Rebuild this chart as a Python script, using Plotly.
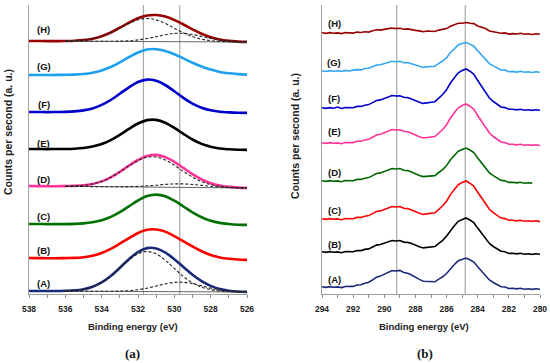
import plotly.graph_objects as go

# ---------------- Panel (a): O 1s ----------------
energy_a = [538.0, 537.5, 537.0, 536.5, 536.0, 535.5, 535.0, 534.5, 534.0, 533.5, 533.0, 532.5,
            532.0, 531.5, 531.0, 530.5, 530.0, 529.5, 529.0, 528.5, 528.0, 527.5, 527.0, 526.5, 526.0]

a_A = [3.0, 3.0, 3.0, 3.0, 3.2, 3.6, 4.8, 7.3, 11.6, 18.0, 26.2, 34.8, 42.0, 45.9, 45.6, 41.5, 34.8, 26.9, 19.2, 12.8, 8.1, 5.0, 3.3, 2.5, 2.1]
a_B = [36.0, 35.9, 35.8, 35.8, 35.9, 36.1, 36.8, 38.3, 41.0, 45.1, 50.3, 55.8, 61.0, 64.2, 64.5, 62.4, 57.8, 52.7, 47.5, 42.7, 39.0, 36.6, 35.2, 34.5, 34.1]
a_C = [70.0, 70.0, 69.9, 69.9, 69.9, 70.1, 70.6, 71.7, 73.7, 77.1, 81.9, 87.7, 93.5, 97.9, 99.4, 97.8, 93.3, 87.5, 81.6, 76.7, 73.2, 71.1, 70.0, 69.3, 69.1]
a_D = [108.0, 107.9, 107.8, 107.8, 107.9, 108.1, 108.7, 110.1, 112.6, 116.7, 122.2, 128.4, 134.0, 138.0, 139.1, 136.9, 132.2, 126.1, 119.9, 114.6, 110.8, 108.4, 107.1, 106.4, 106.1]
a_E = [145.0, 145.0, 144.9, 145.0, 145.0, 145.3, 146.0, 147.4, 149.9, 153.9, 159.2, 165.1, 170.5, 173.9, 174.1, 171.3, 166.1, 160.1, 154.5, 150.1, 147.3, 145.5, 144.7, 144.2, 144.1]
a_F = [182.0, 182.0, 181.9, 182.0, 182.1, 182.6, 183.6, 185.6, 189.1, 194.0, 200.3, 206.7, 212.0, 214.4, 213.2, 209.0, 202.7, 196.1, 190.4, 186.3, 183.7, 182.2, 181.6, 181.2, 181.1]
a_G = [219.0, 219.0, 219.0, 219.1, 219.2, 219.4, 220.0, 221.3, 223.6, 227.0, 231.7, 236.9, 241.5, 244.5, 244.8, 243.1, 239.8, 235.6, 231.3, 227.5, 224.4, 222.1, 220.7, 219.9, 219.4]
a_H = [253.0, 253.0, 252.9, 252.9, 253.0, 253.3, 254.0, 255.3, 257.8, 261.5, 266.3, 271.3, 275.8, 278.5, 279.0, 277.4, 274.0, 269.5, 264.7, 260.2, 256.8, 254.4, 253.1, 252.4, 252.1]

# fitted components (dashed) and fit backgrounds (thin solid)
a_A_fit1 = [3.0, 3.0, 3.0, 3.0, 3.2, 3.6, 4.8, 7.3, 11.6, 17.9, 25.9, 34.0, 40.2, 42.5, 40.1, 33.8, 25.6, 17.5, 11.1, 6.8, 4.3, 3.0, 2.4, 2.1, 2.0]
a_A_fit2 = [3.0, 3.0, 2.9, 2.9, 2.8, 2.8, 2.8, 2.7, 2.7, 2.7, 2.9, 3.3, 4.3, 5.8, 8.0, 10.1, 11.6, 11.7, 10.4, 8.2, 5.9, 4.1, 3.0, 2.4, 2.1]
a_D_fit1 = [108.0, 107.9, 107.8, 107.8, 107.9, 108.1, 108.7, 110.1, 112.6, 116.7, 122.1, 128.1, 133.4, 136.8, 137.0, 134.1, 128.8, 122.6, 116.9, 112.4, 109.4, 107.7, 106.8, 106.3, 106.1]
a_D_fit2 = [108.0, 107.9, 107.8, 107.8, 107.7, 107.6, 107.5, 107.4, 107.3, 107.3, 107.3, 107.4, 107.6, 108.1, 108.8, 109.6, 110.1, 110.1, 109.5, 108.6, 107.7, 107.0, 106.5, 106.2, 106.1]
a_H_fit1 = [253.0, 253.0, 252.9, 252.9, 253.0, 253.3, 254.0, 255.3, 257.8, 261.4, 266.0, 270.6, 274.2, 275.5, 274.1, 270.5, 265.7, 261.1, 257.4, 254.8, 253.4, 252.6, 252.3, 252.0, 252.0]
a_H_fit2 = [253.0, 253.0, 252.9, 252.9, 252.8, 252.8, 252.8, 252.7, 252.7, 252.7, 252.9, 253.2, 254.1, 255.5, 257.3, 259.3, 260.6, 260.7, 259.5, 257.6, 255.6, 253.9, 252.9, 252.3, 252.1]
bg_energy = [536.0, 526.0]
a_A_bg = [2.8, 2.0]
a_D_bg = [107.7, 106.0]
a_H_bg = [252.8, 252.0]

# ---------------- Panel (b): C 1s ----------------
energy_b = [294.0, 293.75, 293.5, 293.25, 293.0, 292.75, 292.5, 292.25, 292.0, 291.75, 291.5, 291.25,
            291.0, 290.75, 290.5, 290.25, 290.0, 289.75, 289.5, 289.25, 289.0, 288.75, 288.5, 288.25,
            288.0, 287.75, 287.5, 287.25, 287.0, 286.75, 286.5, 286.25, 286.0, 285.75, 285.5, 285.25,
            285.0, 284.75, 284.5, 284.25, 284.0, 283.75, 283.5, 283.25, 283.0, 282.75, 282.5, 282.25,
            282.0, 281.75, 281.5, 281.25, 281.0, 280.75, 280.5, 280.25, 280.0]

b_A = [7.3, 6.6, 7.4, 6.7, 7.1, 6.4, 7.5, 7.5, 7.6, 9.0, 9.2, 10.7, 11.7, 14.1, 16.7, 17.9, 19.6, 21.9, 23.4, 23.0,
       23.6, 21.5, 20.8, 19.0, 16.6, 14.6, 12.8, 12.7, 12.1, 12.2, 14.9, 17.2, 20.5, 25.6, 29.5, 33.2, 34.7, 36.0, 34.2, 32.0,
       27.2, 22.9, 18.8, 14.0, 11.5, 9.3, 7.3, 7.0, 5.5, 5.7, 5.1, 5.8, 4.8, 5.2, 4.6, 5.3, 4.8]
b_B = [42.3, 41.6, 42.4, 41.7, 42.1, 41.3, 42.4, 42.3, 42.2, 43.5, 43.4, 44.6, 45.1, 47.0, 48.9, 49.5, 50.6, 52.4, 53.5, 53.0,
       53.5, 51.9, 51.6, 50.4, 48.6, 47.3, 46.1, 46.6, 46.7, 47.4, 50.7, 53.7, 57.9, 63.7, 68.3, 72.7, 74.6, 76.0, 74.0, 71.3,
       65.9, 60.8, 56.0, 50.5, 47.5, 44.9, 42.7, 42.2, 40.6, 40.8, 40.1, 40.8, 39.8, 40.2, 39.6, 40.3, 39.8]
b_C = [75.3, 74.6, 75.4, 74.7, 75.1, 74.3, 75.5, 75.3, 75.3, 76.6, 76.6, 77.8, 78.4, 80.4, 82.5, 83.1, 84.4, 86.3, 87.5, 87.0,
       87.5, 85.8, 85.4, 84.1, 82.2, 80.7, 79.6, 80.1, 80.2, 81.2, 84.7, 88.2, 92.8, 99.4, 104.4, 109.3, 111.5, 113.0, 110.8, 107.7,
       101.8, 96.1, 90.7, 84.7, 81.3, 78.4, 75.9, 75.4, 73.7, 73.8, 73.1, 73.8, 72.8, 73.2, 72.6, 73.3, 72.3]
b_D = [113.3, 112.6, 113.4, 112.7, 113.1, 112.3, 113.5, 113.3, 113.3, 114.6, 114.6, 115.8, 116.4, 118.4, 120.5, 121.1, 122.4, 124.3, 125.5, 125.0,
       125.5, 123.8, 123.4, 122.1, 120.1, 118.6, 117.4, 117.8, 117.8, 118.4, 121.5, 124.4, 128.4, 134.2, 138.5, 142.8, 144.6, 146.0, 144.0, 141.4,
       136.1, 131.2, 126.5, 121.2, 118.3, 115.8, 113.6, 113.2, 111.6, 111.7, 111.1, 111.8, 110.8, 111.2, 110.9]
b_E = [151.3, 150.6, 151.4, 150.7, 151.1, 150.3, 151.5, 151.4, 151.4, 152.7, 152.7, 154.0, 154.7, 156.8, 159.0, 159.8, 161.2, 163.2, 164.5, 164.0,
       164.3, 162.7, 162.3, 160.8, 158.8, 157.2, 156.0, 156.4, 156.5, 157.4, 161.0, 164.5, 169.3, 176.0, 181.2, 186.2, 188.5, 190.0, 187.8, 184.6,
       178.5, 172.7, 167.1, 161.0, 157.5, 154.5, 152.0, 151.4, 149.7, 149.8, 149.1, 149.8, 148.8, 149.2, 148.6, 149.3, 148.5]
b_F = [186.3, 185.6, 186.4, 185.7, 187.0, 185.5, 186.5, 186.3, 186.3, 187.6, 187.6, 188.8, 189.4, 191.4, 193.5, 194.1, 195.4, 197.3, 198.5, 198.0,
       198.3, 196.8, 196.4, 195.1, 193.2, 191.7, 190.6, 191.1, 191.3, 192.3, 195.9, 199.5, 204.3, 211.0, 216.2, 221.2, 223.5, 225.0, 222.8, 219.6,
       213.5, 207.7, 202.1, 196.0, 192.5, 189.5, 187.0, 186.4, 184.7, 184.8, 184.1, 184.8, 183.8, 184.2, 183.6, 184.3, 183.7]
b_G = [223.2, 222.5, 223.4, 222.7, 223.3, 222.6, 223.6, 223.0, 223.9, 224.4, 224.1, 225.5, 225.7, 227.6, 228.9, 229.2, 230.4, 232.0, 232.8, 232.3,
       232.7, 231.3, 231.4, 230.3, 228.8, 227.7, 226.6, 227.3, 227.2, 227.8, 230.7, 233.0, 236.3, 241.5, 245.2, 249.0, 250.4, 251.5, 249.9, 247.8,
       243.2, 239.1, 235.2, 230.4, 228.1, 226.0, 224.0, 223.9, 222.3, 222.6, 221.9, 222.7, 221.8, 222.2, 221.5, 222.3, 221.8]
b_H = [261.3, 260.6, 261.4, 260.7, 261.1, 260.4, 261.4, 261.1, 260.9, 261.9, 261.5, 262.2, 261.9, 263.3, 264.3, 263.9, 264.3, 265.4, 266.0, 265.4,
       265.7, 264.7, 265.1, 264.7, 263.6, 263.1, 262.2, 263.0, 262.7, 262.5, 263.9, 264.4, 265.4, 267.8, 269.1, 270.8, 270.8, 271.5, 270.7, 270.4,
       268.0, 266.7, 265.4, 263.0, 262.5, 261.8, 260.8, 261.1, 259.9, 260.4, 260.0, 260.7, 259.8, 260.2, 259.5, 260.3, 259.8]

sample_labels = ["(A)", "(B)", "(C)", "(D)", "(E)", "(F)", "(G)", "(H)"]
a_label_x = 537.2
a_label_y = [11, 44, 78, 115, 151, 190, 228, 265]
b_label_x = 293.2
b_label_y = [15, 50, 84, 122, 163, 196, 232, 271]

ref_lines_a = [531.7, 529.7]
ref_lines_b = [289.2, 284.8]

colors_a = ["#1b2a78", "#ff0000", "#007000", "#ff3399", "#000000", "#0000cc", "#1ea0f0", "#990000"]
colors_b = ["#1b2a78", "#000000", "#ff0000", "#006600", "#ff3399", "#0000cc", "#33a6f2", "#990000"]

series_a = [a_A, a_B, a_C, a_D, a_E, a_F, a_G, a_H]
series_b = [b_A, b_B, b_C, b_D, b_E, b_F, b_G, b_H]

fig = go.Figure()

# reference lines
for e in ref_lines_a:
    fig.add_trace(go.Scatter(x=[e, e], y=[0, 289], mode="lines", line=dict(color="#a8a8a8", width=1.2),
                             xaxis="x", yaxis="y", hoverinfo="skip"))
for e in ref_lines_b:
    fig.add_trace(go.Scatter(x=[e, e], y=[0, 289], mode="lines", line=dict(color="#a8a8a8", width=1.2),
                             xaxis="x2", yaxis="y2", hoverinfo="skip"))

for ys, c in zip(series_a, colors_a):
    fig.add_trace(go.Scatter(x=energy_a, y=ys, mode="lines", line=dict(color=c, width=2.6, shape="spline"),
                             xaxis="x", yaxis="y"))

# fit backgrounds and components
for bg in [a_A_bg, a_D_bg, a_H_bg]:
    fig.add_trace(go.Scatter(x=bg_energy, y=bg, mode="lines", line=dict(color="#555555", width=0.9),
                             xaxis="x", yaxis="y"))
for comp in [a_A_fit1, a_A_fit2, a_D_fit1, a_D_fit2, a_H_fit1, a_H_fit2]:
    fig.add_trace(go.Scatter(x=energy_a[4:], y=comp[4:], mode="lines",
                             line=dict(color="#222222", width=1.1, dash="3px,2px", shape="spline"),
                             xaxis="x", yaxis="y"))

for ys, c in zip(series_b, colors_b):
    fig.add_trace(go.Scatter(x=energy_b[:len(ys)], y=ys, mode="lines", line=dict(color=c, width=1.6),
                             xaxis="x2", yaxis="y2"))

bold = dict(family="Liberation Sans, Arial, sans-serif", size=8.5, color="#222222", weight="bold")
common_x = dict(dtick=2, ticks="outside", ticklen=3, tickwidth=1, tickcolor="#8c8c8c",
                minor=dict(dtick=1, ticks="outside", ticklen=3, tickcolor="#8c8c8c"),
                showline=True, linecolor="#a0a0a0", linewidth=1, showgrid=False, zeroline=False,
                tickfont=bold, automargin=False, ticklabelstandoff=4)
common_y = dict(range=[0, 289], domain=[69 / 363, 358 / 363], showline=True, linecolor="#a0a0a0",
                linewidth=1.2, showticklabels=False, ticks="", showgrid=False, zeroline=False, automargin=False)

annotations = []
for lab, y in zip(sample_labels, a_label_y):
    annotations.append(dict(x=a_label_x, y=y, xref="x", yref="y", text=lab, showarrow=False,
                            xanchor="center", yanchor="middle",
                            font=dict(family="Liberation Sans, Arial", size=9.5, color="#111", weight="bold")))
for lab, y in zip(sample_labels, b_label_y):
    annotations.append(dict(x=b_label_x, y=y, xref="x2", yref="y2", text=lab, showarrow=False,
                            xanchor="center", yanchor="middle",
                            font=dict(family="Liberation Sans, Arial", size=9.5, color="#111", weight="bold")))

title_font = dict(family="Liberation Sans, Arial", size=9.5, color="#222", weight="bold")
ytitle_font = dict(family="Liberation Sans, Arial", size=10.5, color="#222", weight="bold")
for xc in [133, 424]:
    annotations.append(dict(x=xc / 550, y=(363 - 326) / 363, xref="paper", yref="paper",
                            xanchor="center", yanchor="middle",
                            text="Binding energy (eV)", showarrow=False, font=title_font))
for xc, yc in [(8, 132), (295, 136)]:
    annotations.append(dict(x=xc / 550, y=(363 - yc) / 363, xref="paper", yref="paper",
                            xanchor="center", yanchor="middle",
                            text="Counts per second (a. u.)", textangle=-90, showarrow=False, font=ytitle_font))
for xc, t in [(132, "(a)"), (425, "(b)")]:
    annotations.append(dict(x=xc / 550, y=(363 - 353) / 363, xref="paper", yref="paper", text=t,
                            xanchor="center", yanchor="middle",
                            showarrow=False, font=dict(family="Liberation Serif, DejaVu Serif, serif",
                                                       size=13, color="#111", weight="bold")))

fig.update_layout(
    width=550, height=363, margin=dict(l=0, r=0, t=0, b=0),
    paper_bgcolor="white", plot_bgcolor="white", showlegend=False,
    xaxis=dict(domain=[29 / 550, 247 / 550], range=[538, 526], anchor="y", **common_x),
    yaxis=dict(anchor="x", **common_y),
    xaxis2=dict(domain=[322 / 550, 540 / 550], range=[294, 280], anchor="y2", **common_x),
    yaxis2=dict(anchor="x2", **common_y),
    annotations=annotations,
)

# remove the browser's default page margin so the 550x363 figure fills the window exactly
fig.write_html("out.html", config={"displayModeBar": False},
               post_script="document.body.style.margin='0';document.body.style.overflow='hidden';")
